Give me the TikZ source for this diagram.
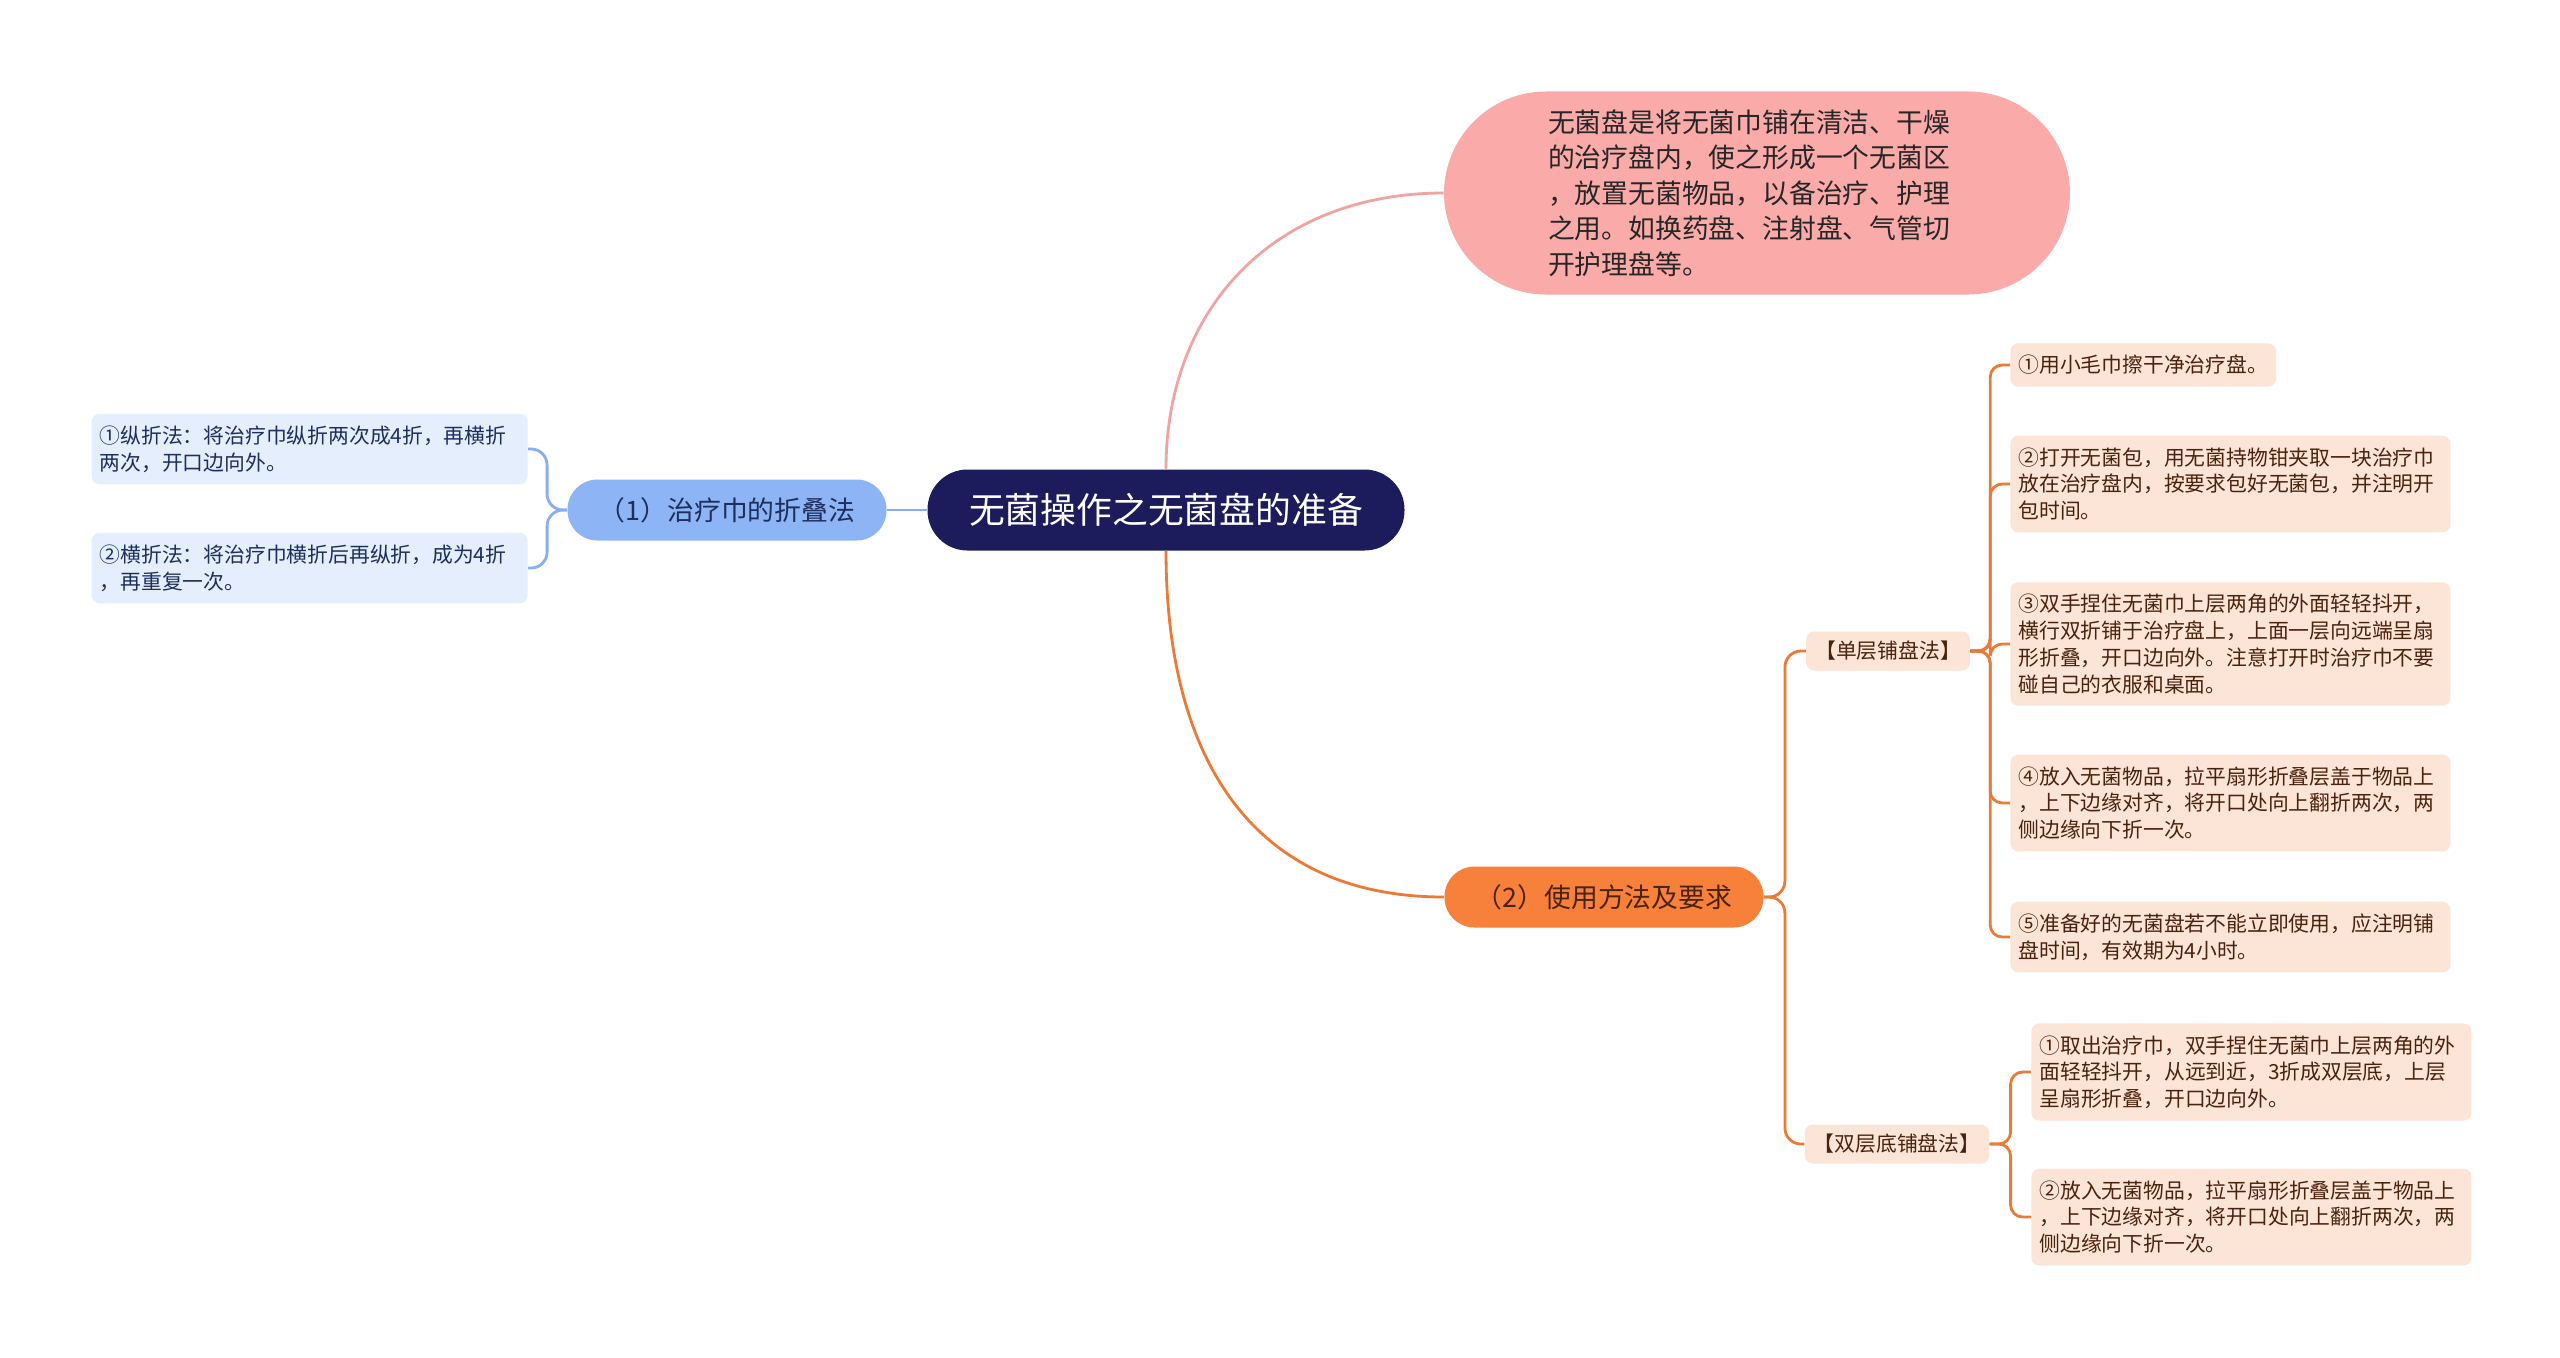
\documentclass[tikz,border=0pt]{standalone}
\usepackage{fontspec}
\setmainfont{Noto Sans CJK SC}
\usepackage{xcolor}
\usetikzlibrary{positioning}

\definecolor{navy}{HTML}{1C1B5C}
\definecolor{pinkfill}{HTML}{FAAAA8}
\definecolor{pinkline}{HTML}{F0A4A2}
\definecolor{orangefill}{HTML}{F7803A}
\definecolor{orangeline}{HTML}{EB7A37}
\definecolor{peach}{HTML}{FCE4D6}
\definecolor{browntext}{HTML}{4A230E}
\definecolor{bluefill}{HTML}{8DB4F5}
\definecolor{blueline}{HTML}{86AEF0}
\definecolor{bluepale}{HTML}{E5EEFC}
\definecolor{bluetext}{HTML}{1E2E5E}

\begin{document}
\begin{tikzpicture}[x=0.5pt,y=0.5pt,
  root/.style={fill=navy, text=white, rounded corners=20pt, minimum width=238.5pt,
    minimum height=40.5pt, inner sep=0pt, font=\fontsize{17.9}{20}\selectfont},
  branch/.style={rounded corners=15pt, minimum width=159.5pt, minimum height=30.5pt,
    inner sep=0pt, font=\fontsize{13.4}{16}\selectfont},
  defbox/.style={fill=pinkfill, text=black!85, rounded corners=51pt, align=left,
    text width=209pt, inner xsep=52pt, inner ysep=9pt, font=\fontsize{13.4}{17.75}\selectfont},
  sub/.style={fill=peach, text=browntext, rounded corners=4pt, inner xsep=4.5pt,
    inner ysep=0pt, minimum height=19.5pt, font=\fontsize{10.4}{13.35}\selectfont},
  leaf/.style={fill=peach, text=browntext, rounded corners=4pt, align=left,
    inner xsep=4pt, inner ysep=6pt, font=\fontsize{10.4}{13.35}\selectfont},
  foldleaf/.style={fill=bluepale, text=bluetext, rounded corners=4pt, align=left,
    text width=210pt, inner xsep=4pt, inner ysep=6pt, font=\fontsize{10.4}{13.35}\selectfont},
  wire/.style={line width=1.4pt}]

  % canvas
  \fill[white] (0,0) rectangle (2560,-1357);
  \useasboundingbox (0,0) rectangle (2560,-1357);

  % central topic
  \node[root] (root) at (1166,-510) {无菌操作之无菌盘的准备};

  % definition
  \node[defbox] (def) at (1757,-193) {无菌盘是将无菌巾铺在清洁、干燥\\的治疗盘内，使之形成一个无菌区\\，放置无菌物品，以备治疗、护理\\之用。如换药盘、注射盘、气管切\\开护理盘等。};

  % two main branches
  \node[branch, fill=bluefill, text=bluetext] (fold) at (727,-510) {（1）治疗巾的折叠法};
  \node[branch, fill=orangefill, text=browntext] (use) at (1604,-897) {（2）使用方法及要求};

  % folding methods
  \node[foldleaf, anchor=east] (b1) at (528,-449) {①纵折法：将治疗巾纵折两次成4折，再横折\\两次，开口边向外。};
  \node[foldleaf, anchor=east] (b2) at (528,-568) {②横折法：将治疗巾横折后再纵折，成为4折\\，再重复一次。};

  % single layer
  \node[sub] (single) at (1888,-651) {【单层铺盘法】};
  \node[leaf, anchor=west] (s1) at (2010,-365) {①用小毛巾擦干净治疗盘。};
  \node[leaf, anchor=west, text width=212pt] (s2) at (2010,-484) {②打开无菌包，用无菌持物钳夹取一块治疗巾\\放在治疗盘内，按要求包好无菌包，并注明开\\包时间。};
  \node[leaf, anchor=west, text width=212pt] (s3) at (2010,-644) {③双手捏住无菌巾上层两角的外面轻轻抖开，\\横行双折铺于治疗盘上，上面一层向远端呈扇\\形折叠，开口边向外。注意打开时治疗巾不要\\碰自己的衣服和桌面。};
  \node[leaf, anchor=west, text width=212pt] (s4) at (2010,-803) {④放入无菌物品，拉平扇形折叠层盖于物品上\\，上下边缘对齐，将开口处向上翻折两次，两\\侧边缘向下折一次。};
  \node[leaf, anchor=west, text width=212pt] (s5) at (2010,-937) {⑤准备好的无菌盘若不能立即使用，应注明铺\\盘时间，有效期为4小时。};

  % double layer
  \node[sub] (double) at (1897,-1144) {【双层底铺盘法】};
  \node[leaf, anchor=west, text width=212pt] (d1) at (2031,-1072) {①取出治疗巾，双手捏住无菌巾上层两角的外\\面轻轻抖开，从远到近，3折成双层底，上层\\呈扇形折叠，开口边向外。};
  \node[leaf, anchor=west, text width=212pt] (d2) at (2031,-1217) {②放入无菌物品，拉平扇形折叠层盖于物品上\\，上下边缘对齐，将开口处向上翻折两次，两\\侧边缘向下折一次。};

  % connectors from the centre
  \draw[wire, pinkline] (root.north) .. controls +(0,160) and +(-170,0) .. (def.west);
  \draw[wire, orangeline] (root.south) .. controls +(0,-210) and +(-190,0) .. (use.west);
  \draw[wire, blueline] (root.west) -- (fold.east);

  % brackets
  \foreach \n in {b1,b2}
    \draw[wire, blueline, rounded corners=8pt] (fold.west) -- ++(-20,0) |- (\n.east);
  \foreach \n in {single,double}
    \draw[wire, orangeline, rounded corners=8pt] (use.east) -- ++(21,0) |- (\n.west);
  \foreach \n in {s1,s2,s3,s4,s5}
    \draw[wire, orangeline, rounded corners=6pt] (single.east) -- ++(20,0) |- (\n.west);
  \foreach \n in {d1,d2}
    \draw[wire, orangeline, rounded corners=6pt] (double.east) -- ++(21,0) |- (\n.west);
\end{tikzpicture}
\end{document}
